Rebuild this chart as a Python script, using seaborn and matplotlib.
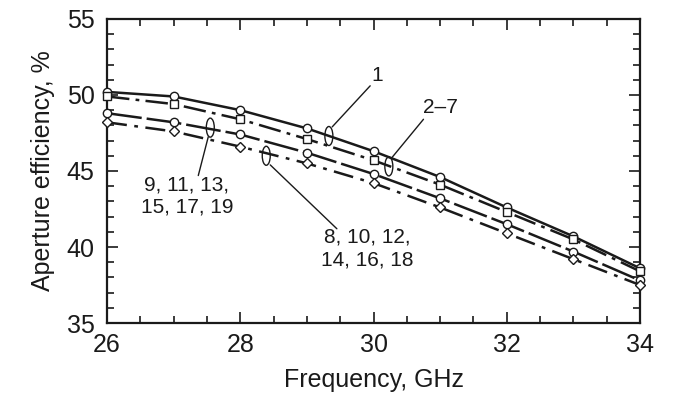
import matplotlib
matplotlib.use("Agg")
import matplotlib.pyplot as plt
from matplotlib.patches import Ellipse
from matplotlib.ticker import MultipleLocator
import pandas as pd
import seaborn as sns

# frequency points, GHz
freq = [26, 27, 28, 29, 30, 31, 32, 33, 34]

# aperture efficiency, %
eff_1 = [50.2, 49.9, 49.0, 47.8, 46.3, 44.6, 42.6, 40.7, 38.6]
eff_2_7 = [49.9, 49.4, 48.4, 47.1, 45.7, 44.1, 42.3, 40.5, 38.4]
eff_even = [48.8, 48.2, 47.4, 46.2, 44.8, 43.2, 41.5, 39.7, 37.8]
eff_odd = [48.2, 47.6, 46.6, 45.5, 44.2, 42.6, 40.9, 39.2, 37.5]

series_names = ["1", "2-7", "8-18", "9-19"]

sns.set_style("ticks")
plt.rcParams['font.family'] = ['Liberation Sans', 'DejaVu Sans']

fig = plt.figure(figsize=(6.73, 4.11), dpi=100)
ax = fig.add_axes([0.159, 0.214, 0.792, 0.740])

styles = {
    "1": dict(linestyle="-", marker="o"),
    "2-7": dict(linestyle=(0, (9, 2.5, 1.5, 2.5)), marker="s"),
    "8-18": dict(linestyle=(0, (14, 2)), marker="o"),
    "9-19": dict(linestyle=(0, (8, 3, 1.5, 3)), marker="D"),
}
for name, vals in zip(series_names, [eff_1, eff_2_7, eff_even, eff_odd]):
    df = pd.DataFrame({"Frequency": freq, "Efficiency": vals})
    st = styles[name]
    ms = 5.2 if st["marker"] == "D" else 6
    sns.lineplot(data=df, x="Frequency", y="Efficiency", ax=ax, color="#1a1a1a",
                 linewidth=1.8, marker=st["marker"], markersize=ms,
                 markerfacecolor="white", markeredgecolor="#1a1a1a",
                 markeredgewidth=1.0, linestyle=st["linestyle"], clip_on=False,
                 zorder=3)

ax.set_xlim(26, 34)
ax.set_ylim(35, 55)
ax.xaxis.set_major_locator(MultipleLocator(2))
ax.xaxis.set_minor_locator(MultipleLocator(0.5))
ax.yaxis.set_major_locator(MultipleLocator(5))
ax.yaxis.set_minor_locator(MultipleLocator(1))
ax.tick_params(which="both", direction="in", top=True, right=True,
               width=1.2, colors="#1a1a1a", labelsize=18)
ax.tick_params(axis="x", pad=7)
ax.tick_params(axis="y", pad=9)
ax.tick_params(which="major", length=8)
ax.tick_params(which="minor", length=5)
for sp in ax.spines.values():
    sp.set_linewidth(1.6)
    sp.set_color("#1a1a1a")
ax.set_xlabel("Frequency, GHz", fontsize=18, color="#1a1a1a", labelpad=8)
ax.set_ylabel("Aperture efficiency, %", fontsize=18, color="#1a1a1a", labelpad=8)

# curve group markers (ellipses) with leader lines
ell_kw = dict(facecolor="none", edgecolor="#1a1a1a", linewidth=1.0)
for (ex, ey) in [(29.33, 47.3), (30.23, 45.3), (27.55, 47.85), (28.39, 46.0)]:
    ax.add_patch(Ellipse((ex, ey), 0.12, 1.25, **ell_kw))

lk = dict(color="#1a1a1a", linewidth=1.0)
ax.plot([29.38, 29.95], [47.9, 50.6], **lk)
ax.plot([30.28, 30.75], [45.9, 48.4], **lk)
ax.plot([27.52, 27.37], [47.25, 44.7], **lk)
ax.plot([28.45, 29.45], [45.4, 41.2], **lk)

tk = dict(fontsize=15, color="#1a1a1a", ha="center", va="center")
ax.text(30.05, 51.3, "1", **tk)
ax.text(31.0, 49.2, "2\u20137", **tk)
ax.text(27.2, 43.35, "9, 11, 13,\n15, 17, 19", linespacing=1.25, **tk)
ax.text(29.9, 39.9, "8, 10, 12,\n14, 16, 18", linespacing=1.25, **tk)

fig.savefig("out.png", dpi=100)
